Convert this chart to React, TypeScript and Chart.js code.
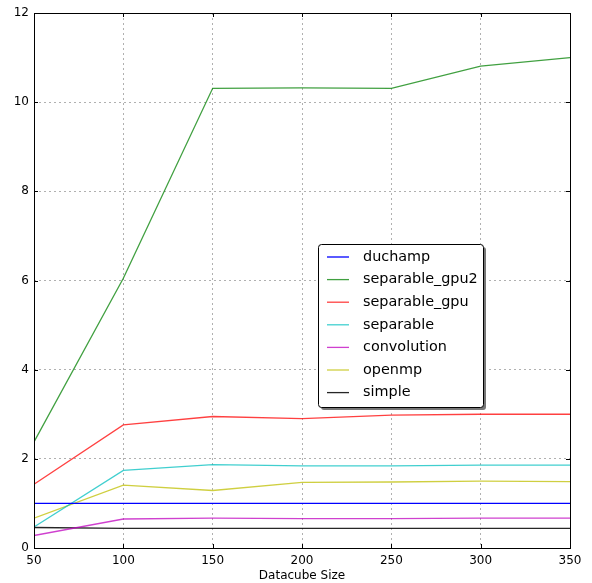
import React, { useEffect, useRef } from "react";
import { Chart, registerables } from "chart.js";

Chart.register(...registerables);

// Benchmark results: run time per datacube size for each implementation
const datacubeSizes = [50, 100, 150, 200, 250, 300, 350];
const xTicks = [50, 100, 150, 200, 250, 300, 350];
const yTicks = [0, 2, 4, 6, 8, 10, 12];

const duchamp = [1.0, 1.0, 1.0, 1.0, 1.0, 1.0, 1.0];
const separableGpu2 = [2.38, 6.05, 10.31, 10.32, 10.31, 10.81, 11.0];
const separableGpu = [1.43, 2.76, 2.95, 2.9, 2.98, 3.0, 3.0];
const separable = [0.47, 1.74, 1.87, 1.84, 1.84, 1.86, 1.86];
const convolution = [0.28, 0.65, 0.67, 0.66, 0.66, 0.67, 0.67];
const openmp = [0.67, 1.41, 1.29, 1.47, 1.48, 1.5, 1.49];
const simple = [0.46, 0.44, 0.44, 0.44, 0.44, 0.44, 0.44];

const seriesNames = [
  "duchamp",
  "separable_gpu2",
  "separable_gpu",
  "separable",
  "convolution",
  "openmp",
  "simple",
];
const seriesValues = [duchamp, separableGpu2, separableGpu, separable, convolution, openmp, simple];
const seriesColors = [
  "rgba(0,0,255,1)",
  "rgba(0,128,0,0.75)",
  "rgba(255,0,0,0.75)",
  "rgba(0,191,191,0.75)",
  "rgba(191,0,191,0.75)",
  "rgba(191,191,0,0.75)",
  "rgba(0,0,0,0.85)",
];

const FONT = "'DejaVu Sans', sans-serif";

// Box frame with inward tick marks on all four sides
const framePlugin = {
  id: "frame",
  afterDatasetsDraw(chart: any) {
    const { ctx, chartArea: a, scales } = chart;
    ctx.save();
    ctx.strokeStyle = "#000";
    ctx.lineWidth = 1;
    ctx.beginPath();
    for (const v of xTicks) {
      const x = Math.round(scales.x.getPixelForValue(v)) + 0.5;
      ctx.moveTo(x, a.bottom);
      ctx.lineTo(x, a.bottom - 4);
      ctx.moveTo(x, a.top);
      ctx.lineTo(x, a.top + 4);
    }
    for (const v of yTicks) {
      const y = Math.round(scales.y.getPixelForValue(v)) + 0.5;
      ctx.moveTo(a.left, y);
      ctx.lineTo(a.left + 4, y);
      ctx.moveTo(a.right, y);
      ctx.lineTo(a.right - 4, y);
    }
    ctx.stroke();
    ctx.strokeRect(Math.round(a.left) + 0.5, Math.round(a.top) + 0.5, Math.round(a.right - a.left), Math.round(a.bottom - a.top));
    ctx.restore();
  },
};

// Legend box with drop shadow drawn inside the plot area
const boxLegendPlugin = {
  id: "boxLegend",
  afterDraw(chart: any, _args: any, opts: any) {
    const { ctx } = chart;
    const { left, top, width, height, rowHeight } = opts;
    ctx.save();
    const rr = (x: number, y: number, w: number, h: number, r: number) => {
      ctx.beginPath();
      ctx.moveTo(x + r, y);
      ctx.lineTo(x + w - r, y);
      ctx.quadraticCurveTo(x + w, y, x + w, y + r);
      ctx.lineTo(x + w, y + h - r);
      ctx.quadraticCurveTo(x + w, y + h, x + w - r, y + h);
      ctx.lineTo(x + r, y + h);
      ctx.quadraticCurveTo(x, y + h, x, y + h - r);
      ctx.lineTo(x, y + r);
      ctx.quadraticCurveTo(x, y, x + r, y);
      ctx.closePath();
    };
    rr(left + 3, top + 3, width, height, 3);
    ctx.fillStyle = "#777";
    ctx.fill();
    rr(left + 0.5, top + 0.5, width, height, 3);
    ctx.fillStyle = "#fff";
    ctx.fill();
    ctx.strokeStyle = "#000";
    ctx.lineWidth = 1;
    ctx.stroke();

    ctx.font = `14.4px ${FONT}`;
    ctx.textBaseline = "middle";
    chart.data.datasets.forEach((ds: any, i: number) => {
      const cy = top + 13 + i * rowHeight;
      ctx.strokeStyle = ds.borderColor;
      ctx.lineWidth = 1.3;
      ctx.beginPath();
      ctx.moveTo(left + 9, cy);
      ctx.lineTo(left + 31, cy);
      ctx.stroke();
      ctx.fillStyle = "#000";
      ctx.fillText(ds.label, left + 45, cy);
    });
    ctx.restore();
  },
};

export default function App() {
  const canvasRef = useRef<HTMLCanvasElement | null>(null);

  useEffect(() => {
    if (!canvasRef.current) return;
    const chart = new Chart(canvasRef.current, {
      type: "line",
      data: {
        labels: datacubeSizes,
        datasets: seriesNames.map((name, i) => ({
          label: name,
          data: datacubeSizes.map((x, j) => ({ x, y: seriesValues[i][j] })),
          borderColor: seriesColors[i],
          backgroundColor: seriesColors[i],
          borderWidth: 1.3,
          pointRadius: 0,
          tension: 0,
          fill: false,
        })),
      },
      options: {
        animation: false,
        responsive: false,
        layout: { padding: { left: 0, top: 13, right: 22, bottom: 0 } },
        plugins: {
          legend: { display: false },
          tooltip: { enabled: false },
          boxLegend: { left: 318, top: 244, width: 165, height: 163, rowHeight: 22.6 },
        } as any,
        scales: {
          x: {
            type: "linear",
            min: 50,
            max: 350,
            afterBuildTicks: (s: any) => {
              s.ticks = xTicks.map((v) => ({ value: v }));
            },
            afterFit: (s: any) => {
              s.height = 35;
            },
            grid: {
              color: "#b0b0b0",
              drawTicks: false,
              tickLength: 0,
            },
            border: { display: false, dash: [2, 3] },
            ticks: {
              padding: 6,
              color: "#000",
              font: { family: FONT, size: 12 },
              maxRotation: 0,
            },
            title: {
              display: true,
              text: "Datacube Size",
              color: "#000",
              font: { family: FONT, size: 12 },
              padding: 0,
            },
          },
          y: {
            type: "linear",
            min: 0,
            max: 12,
            afterBuildTicks: (s: any) => {
              s.ticks = yTicks.map((v) => ({ value: v }));
            },
            afterFit: (s: any) => {
              s.width = 34;
            },
            grid: {
              color: "#b0b0b0",
              drawTicks: false,
              tickLength: 0,
            },
            border: { display: false, dash: [2, 3] },
            ticks: {
              padding: 5,
              color: "#000",
              font: { family: FONT, size: 12 },
            },
          },
        },
      },
      plugins: [framePlugin, boxLegendPlugin],
    });
    return () => chart.destroy();
  }, []);

  return (
    <div style={{ position: "fixed", left: 0, top: 0, width: 592, height: 583, background: "#fff" }}>
      <canvas ref={canvasRef} width={592} height={583} style={{ width: 592, height: 583, display: "block" }} />
    </div>
  );
}
